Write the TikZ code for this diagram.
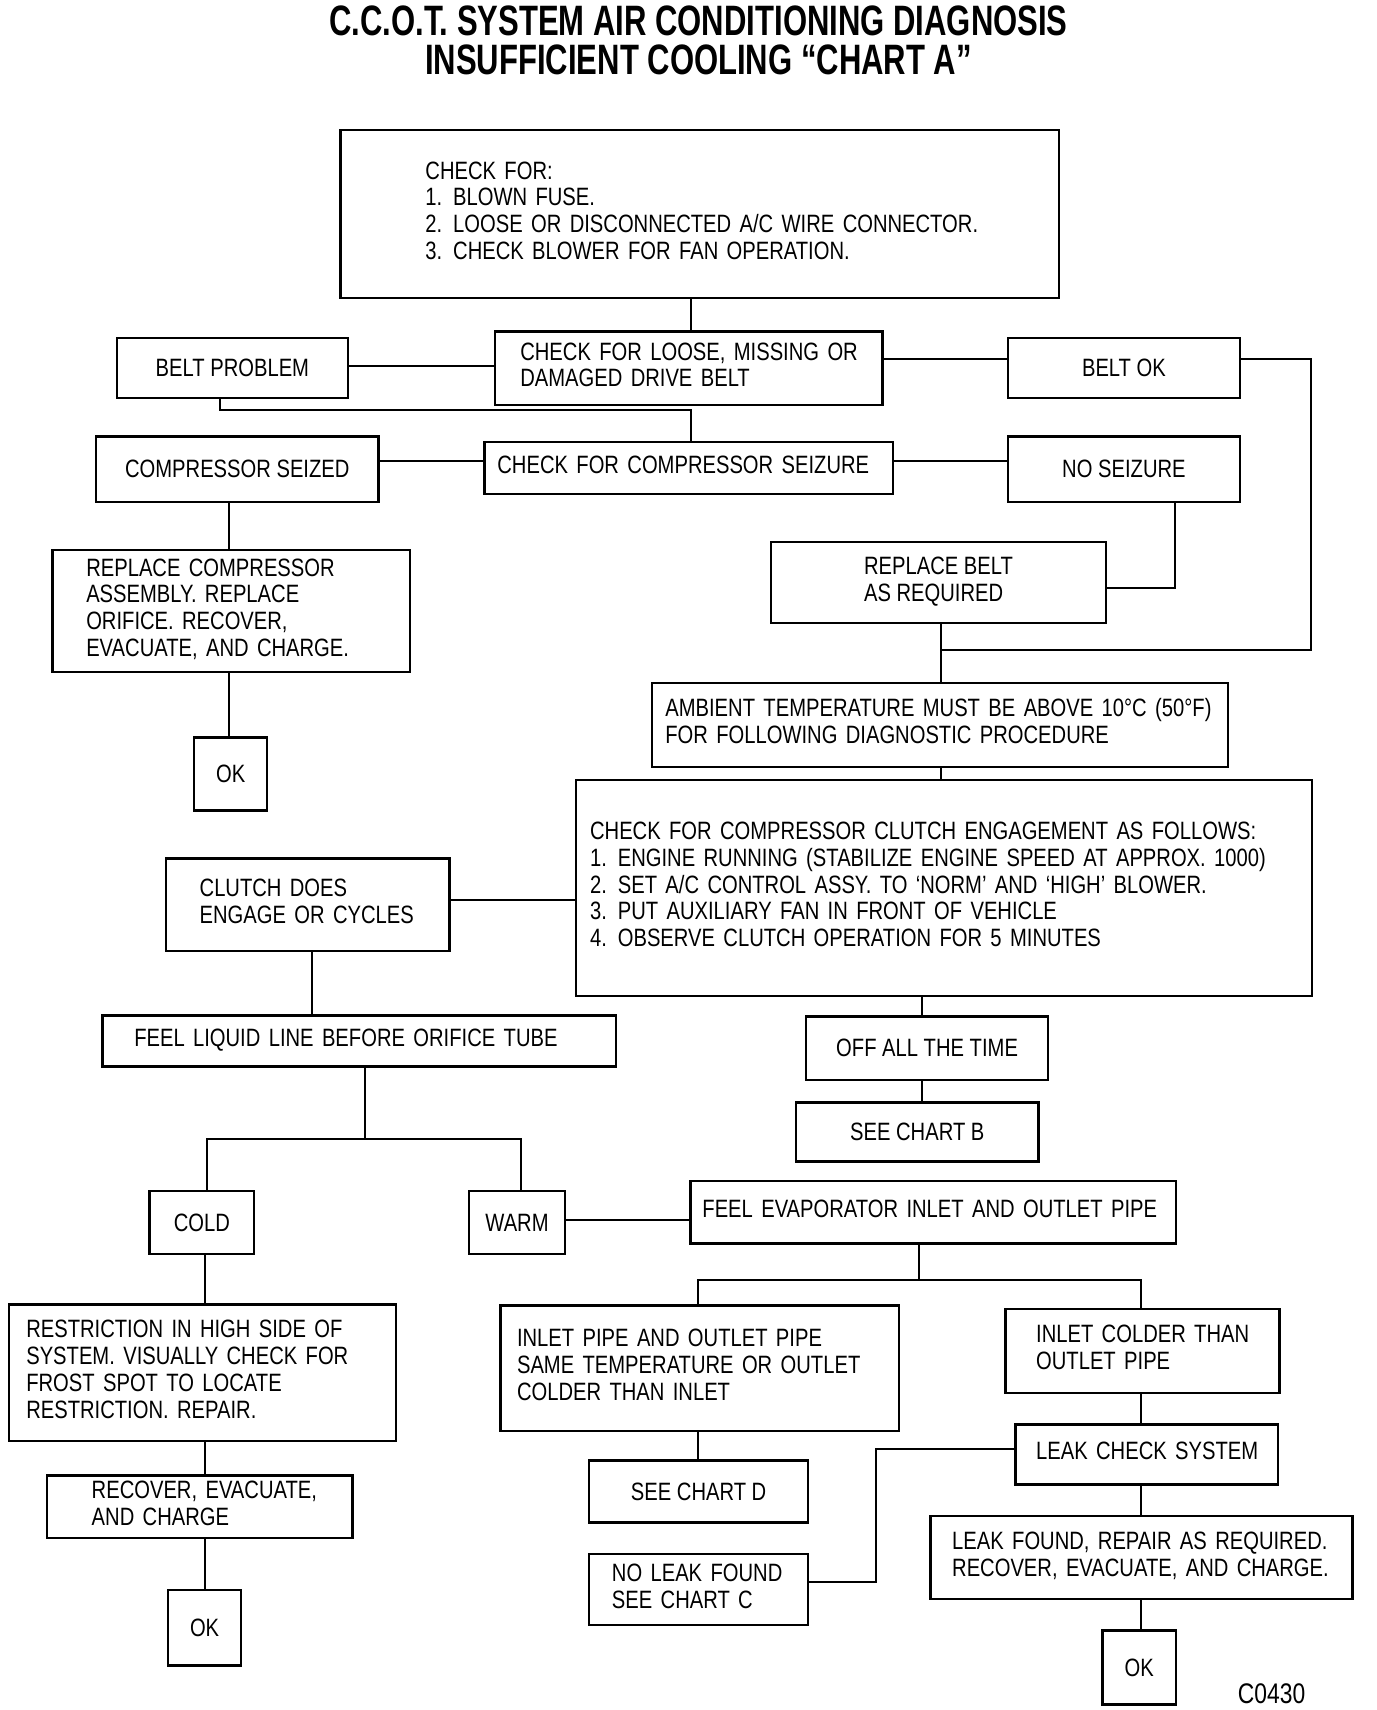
\documentclass[tikz,border=0pt]{standalone}
\usepackage{fontspec}
\setmainfont{Liberation Sans}[FakeStretch=0.805]
\newfontfamily\titlefont{Liberation Sans}[FakeStretch=0.73]
\newcommand{\lft}[1]{\begin{tabular}{@{}l@{}}#1\end{tabular}}
\newcommand{\nsp}{\hspace{10pt}}
\begin{document}
\begin{tikzpicture}[x=1pt,y=-1pt,
  every node/.style={font=\fontsize{23}{24.5}\selectfont},
  box/.style={draw, line width=2.2pt, anchor=north west, inner sep=0pt, align=center},
  lbox/.style={draw, line width=2.2pt, anchor=north west, inner ysep=0pt, align=left},
  ttl/.style={font=\titlefont\bfseries\fontsize{39}{35}\selectfont, inner sep=0pt, text height=28pt, text depth=0pt},
  ln/.style={line width=1.8pt}]
\useasboundingbox (0,0) rectangle (1262,1568);
% title
\node[ttl] (title1) at (640.5,19) {C.C.O.T. SYSTEM AIR CONDITIONING DIAGNOSIS};
\node[ttl] (title2) at (640.5,54) {INSUFFICIENT COOLING “CHART A”};
% boxes
\node[lbox, minimum height=154pt, text width=503pt, inner xsep=78pt] (top) at (311,118)
  {\lft{CHECK FOR:\\1.\nsp BLOWN FUSE.\\2.\nsp LOOSE OR DISCONNECTED A/C WIRE CONNECTOR.\\3.\nsp CHECK BLOWER FOR FAN OPERATION.}};
\node[lbox, minimum height=67pt, text width=309pt, inner xsep=23pt] (loose) at (453,303)
  {\lft{CHECK FOR LOOSE, MISSING OR\\DAMAGED DRIVE BELT}};
\node[box, minimum width=212pt, minimum height=55pt] (bp) at (106,309) {BELT PROBLEM};
\node[box, minimum width=213pt, minimum height=55pt] (bok) at (923,309) {BELT OK};
\node[box, minimum width=259pt, minimum height=60pt] (seized) at (87,399) {COMPRESSOR SEIZED};
\node[lbox, minimum height=48pt, text width=351pt, inner xsep=12pt] (ccs) at (443,404)
  {\lft{CHECK FOR COMPRESSOR SEIZURE}};
\node[box, minimum width=213pt, minimum height=60pt] (nos) at (923,399) {NO SEIZURE};
\node[box, minimum width=307pt, minimum height=74pt] (rbelt) at (706,496)
  {\lft{REPLACE BELT\\AS REQUIRED}};
\node[lbox, minimum height=112pt, text width=266pt, inner xsep=31pt] (rcomp) at (47,503)
  {\lft{REPLACE COMPRESSOR\\ASSEMBLY. REPLACE\\ORIFICE. RECOVER,\\EVACUATE, AND CHARGE.}};
\node[box, minimum width=67pt, minimum height=67pt] (ok1) at (177,675) {OK};
\node[lbox, minimum height=77pt, text width=504pt, inner xsep=12pt] (amb) at (597,625)
  {\lft{AMBIENT TEMPERATURE MUST BE ABOVE 10°C (50°F)\\FOR FOLLOWING DIAGNOSTIC PROCEDURE}};
\node[lbox, minimum height=198pt, text width=649pt, inner xsep=13pt] (ccl) at (527,714)
  {\lft{CHECK FOR COMPRESSOR CLUTCH ENGAGEMENT AS FOLLOWS:\\
   1.\nsp ENGINE RUNNING (STABILIZE ENGINE SPEED AT APPROX. 1000)\\
   2.\nsp SET A/C CONTROL ASSY. TO ‘NORM’ AND ‘HIGH’ BLOWER.\\
   3.\nsp PUT AUXILIARY FAN IN FRONT OF VEHICLE\\
   4.\nsp OBSERVE CLUTCH OPERATION FOR 5 MINUTES}};
\node[lbox, minimum height=85pt, text width=198pt, inner xsep=31pt] (cdoes) at (151,786)
  {\lft{CLUTCH DOES\\ENGAGE OR CYCLES}};
\node[lbox, minimum height=47pt, text width=413pt, inner xsep=29pt] (fll) at (93,930)
  {\lft{FEEL LIQUID LINE BEFORE ORIFICE TUBE}};
\node[box, minimum width=222pt, minimum height=58pt] (off) at (738,931) {OFF ALL THE TIME};
\node[box, minimum width=222pt, minimum height=54pt] (scb) at (729,1010) {SEE CHART B};
\node[box, minimum width=96pt, minimum height=58pt] (cold) at (136,1091) {COLD};
\node[box, minimum width=88pt, minimum height=58pt] (warm) at (429,1091) {WARM};
\node[lbox, minimum height=57pt, text width=423pt, inner xsep=11pt] (fevap) at (632,1082)
  {\lft{FEEL EVAPORATOR INLET AND OUTLET PIPE}};
\node[lbox, minimum height=125pt, text width=323pt, inner xsep=16pt] (restr) at (7,1195)
  {\lft{RESTRICTION IN HIGH SIDE OF\\SYSTEM. VISUALLY CHECK FOR\\FROST SPOT TO LOCATE\\RESTRICTION. REPAIR.}};
\node[lbox, minimum height=57pt, text width=198pt, inner xsep=41pt] (recov) at (42,1352)
  {\lft{RECOVER, EVACUATE,\\AND CHARGE}};
\node[box, minimum width=67pt, minimum height=69pt] (ok2) at (153,1457) {OK};
\node[lbox, minimum height=115pt, text width=335pt, inner xsep=15pt] (ipipe) at (458,1196)
  {\lft{INLET PIPE AND OUTLET PIPE\\SAME TEMPERATURE OR OUTLET\\COLDER THAN INLET}};
\node[lbox, minimum height=77pt, text width=195pt, inner xsep=28pt] (icold) at (921,1199)
  {\lft{INLET COLDER THAN\\OUTLET PIPE}};
\node[lbox, minimum height=55pt, text width=203pt, inner xsep=19pt] (lcs) at (930,1305)
  {\lft{LEAK CHECK SYSTEM}};
\node[box, minimum width=201pt, minimum height=57pt] (scd) at (539,1338) {SEE CHART D};
\node[lbox, minimum height=65pt, text width=159pt, inner xsep=21pt] (nleak) at (539,1424)
  {\lft{NO LEAK FOUND\\SEE CHART C}};
\node[lbox, minimum height=76pt, text width=347pt, inner xsep=20pt] (lfound) at (852,1389)
  {\lft{LEAK FOUND, REPAIR AS REQUIRED.\\RECOVER, EVACUATE, AND CHARGE.}};
\node[box, minimum width=67pt, minimum height=68pt] (ok3) at (1010,1494) {OK};
\node[font=\fontsize{26}{28}\selectfont] (code) at (1166,1553) {C0430};
% junction coordinates
\coordinate (jr1) at (1202,329);
\coordinate (jr2) at (1202,596);
\coordinate (jb) at (863,596);
\coordinate (jl1) at (202,376);
\coordinate (jl2) at (634,376);
\coordinate (jn) at (1077,539);
\coordinate (jc) at (335,1044);
\coordinate (jcl) at (190,1044);
\coordinate (jcr) at (478,1044);
\coordinate (je) at (843,1174);
\coordinate (jel) at (640,1174);
\coordinate (jer) at (1046,1174);
\coordinate (jk1) at (803,1329);
\coordinate (jk2) at (803,1451);
% connectors
\draw[ln] (top.south -| 634,0) -- (loose.north -| 634,0);
\draw[ln] (bp.east |- 0,336) -- (loose.west |- 0,336);
\draw[ln] (loose.east |- 0,329) -- (bok.west |- 0,329);
\draw[ln] (bok.east |- 0,329) -- (jr1) -- (jr2) -- (jb);
\draw[ln] (bp.south -| 202,0) -- (jl1) -- (jl2) -- (ccs.north -| 634,0);
\draw[ln] (seized.east |- 0,423) -- (ccs.west |- 0,423);
\draw[ln] (ccs.east |- 0,423) -- (nos.west |- 0,423);
\draw[ln] (nos.south -| 1077,0) -- (jn) -- (rbelt.east |- 0,539);
\draw[ln] (rbelt.south -| 863,0) -- (amb.north -| 863,0);
\draw[ln] (amb.south -| 863,0) -- (ccl.north -| 863,0);
\draw[ln] (seized.south -| 210,0) -- (rcomp.north -| 210,0);
\draw[ln] (rcomp.south -| 210,0) -- (ok1.north -| 210,0);
\draw[ln] (cdoes.east |- 0,825) -- (ccl.west |- 0,825);
\draw[ln] (cdoes.south -| 286,0) -- (fll.north -| 286,0);
\draw[ln] (fll.south -| 335,0) -- (jc);
\draw[ln] (cold.north -| 190,0) -- (jcl) -- (jcr) -- (warm.north -| 478,0);
\draw[ln] (warm.east |- 0,1119) -- (fevap.west |- 0,1119);
\draw[ln] (ccl.south -| 845,0) -- (off.north -| 845,0);
\draw[ln] (off.south -| 845,0) -- (scb.north -| 845,0);
\draw[ln] (fevap.south -| 843,0) -- (je);
\draw[ln] (ipipe.north -| 640,0) -- (jel) -- (jer) -- (icold.north -| 1046,0);
\draw[ln] (icold.south -| 1046,0) -- (lcs.north -| 1046,0);
\draw[ln] (ipipe.south -| 640,0) -- (scd.north -| 640,0);
\draw[ln] (lcs.west |- 0,1329) -- (jk1) -- (jk2) -- (nleak.east |- 0,1451);
\draw[ln] (lcs.south -| 1046,0) -- (lfound.north -| 1046,0);
\draw[ln] (lfound.south -| 1046,0) -- (ok3.north -| 1046,0);
\draw[ln] (cold.south -| 188,0) -- (restr.north -| 188,0);
\draw[ln] (restr.south -| 188,0) -- (recov.north -| 188,0);
\draw[ln] (recov.south -| 188,0) -- (ok2.north -| 188,0);
\end{tikzpicture}
\end{document}
